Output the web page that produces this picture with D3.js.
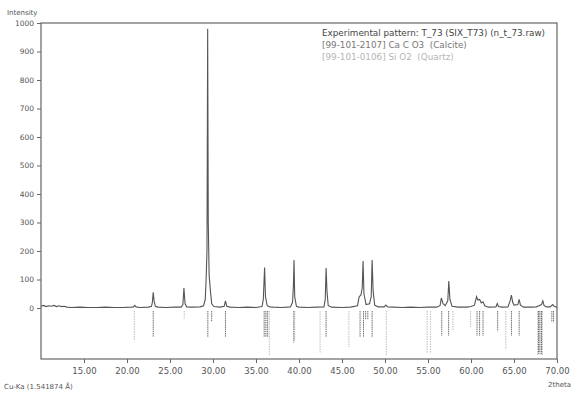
<!DOCTYPE html>
<html><head><meta charset="utf-8">
<script src="https://cdn.jsdelivr.net/npm/d3@7"></script>
<style>
html,body{margin:0;padding:0;background:#fff;}
svg{display:block;font-family:"DejaVu Sans",Verdana,sans-serif;}
</style></head>
<body>
<svg id="c" width="573" height="393"></svg>
<script>
// ---- data ----
const twoTheta = [10.0,10.3,10.6,10.9,11.2,11.5,11.8,12.1,12.4,12.7,13.0,13.5,14.5,15.5,16.5,17.5,18.5,19.5,20.5,20.75,20.9,21.05,21.5,22.5,22.85,22.95,23.05,23.15,23.3,23.6,24.5,25.5,26.3,26.5,26.62,26.75,26.95,27.5,28.5,28.9,29.1,29.2,29.3,29.38,29.45,29.55,29.7,29.85,30.1,30.8,31.3,31.45,31.6,32,33,34,35,35.7,35.85,35.95,36.0,36.1,36.3,36.6,37,38,39.0,39.25,39.35,39.42,39.5,39.7,40,41,42,42.9,43.05,43.15,43.25,43.4,43.8,45,46,46.8,47.0,47.2,47.35,47.45,47.55,47.8,48.2,48.4,48.5,48.62,48.8,49.2,49.9,50.1,50.3,51,52,53,54,55,56,56.4,56.55,56.75,57.0,57.3,57.42,57.55,57.8,58.5,59.5,60.0,60.4,60.65,60.8,61.0,61.2,61.4,61.6,62,62.9,63.05,63.2,63.6,64.3,64.55,64.7,64.85,65.0,65.45,65.6,65.75,66.1,67,67.6,67.9,68.2,68.35,68.5,68.8,69.2,69.5,69.7,70];
const counts   = [6,9,5,8,6,9,5,8,5,6,3,2,3,2,2,3,2,2,3,4,9,4,2,3,6,20,55,25,6,3,2,3,3,12,70,15,4,3,4,8,30,100,200,980,300,115,60,15,5,3,6,25,6,3,2,3,2,5,30,105,142,40,8,4,3,2,4,20,80,168,40,6,3,2,3,4,30,140,60,8,3,2,3,8,40,45,70,165,50,12,15,40,168,60,10,4,4,10,4,3,2,3,2,3,3,8,35,15,8,25,95,30,6,3,3,5,10,40,28,30,18,22,8,3,4,16,5,3,4,25,45,20,10,12,30,10,3,3,4,8,12,25,8,4,4,12,5,3];

const calcitePos = [23.05,29.4,29.85,31.45,35.95,36.15,36.35,39.4,43.15,47.1,47.5,47.75,48.0,48.5,56.6,57.4,60.7,61.0,61.4,63.1,64.7,65.6,67.85,68.0,68.2,69.4,69.6];
const calciteRel = [57,59,23,57,57,57,57,70,57,57,57,18,18,59,55,55,55,55,55,45,55,55,95,95,95,25,25];
const quartzPos  = [20.85,26.65,36.55,39.5,42.45,45.8,50.15,54.9,55.3,57.9,59.95,64.05,67.75,68.15,68.3];
const quartzRel  = [68,18,98,65,93,80,98,95,95,45,35,85,98,98,98];

const yTicks = [0,100,200,300,400,500,600,700,800,900,1000];
const xTicks = [15,20,25,30,35,40,45,50,55,60,65,70];

const legendLines = [
  "Experimental pattern: T_73 (SIX_T73) (n_t_73.raw)",
  "[99-101-2107] Ca C O3  (Calcite)",
  "[99-101-0106] Si O2  (Quartz)"
];
const legendColors = ["#444","#777","#b5b5b5"];

// ---- drawing ----
const svg = d3.select("#c");
const x = d3.scaleLinear().domain([10,70]).range([41,557]);
const y = d3.scaleLinear().domain([0,1000]).range([308,23]);
const s = d3.scaleLinear().domain([0,100]).range([311,356]);

// frame
svg.append("rect").attr("x",41).attr("y",23).attr("width",516).attr("height",336)
  .attr("fill","none").attr("stroke","#666").attr("stroke-width",1.2);

// legend text
svg.selectAll("text.leg").data(legendLines).join("text")
  .attr("class","leg").attr("x",322).attr("y",(d,i)=>36+i*12)
  .attr("font-size",8.8).attr("fill",(d,i)=>legendColors[i])
  .attr("xml:space","preserve").text(d=>d);

// axes
const ya = svg.append("g").attr("transform","translate(41,0)")
  .call(d3.axisLeft(y).tickValues(yTicks).tickSize(4).tickPadding(3).tickFormat(d3.format("d")));
ya.select(".domain").remove();
ya.selectAll("line").attr("stroke","#666");
ya.selectAll("text").attr("font-size",7.5).attr("fill","#555").attr("font-family","DejaVu Sans");

const xa = svg.append("g").attr("transform","translate(0,359)")
  .call(d3.axisBottom(x).tickValues(xTicks).tickSize(4).tickPadding(5).tickFormat(d3.format(".2f")));
xa.select(".domain").remove();
xa.selectAll("line").attr("stroke","#666");
xa.selectAll("text").attr("font-size",8.5).attr("fill","#555").attr("font-family","DejaVu Sans");

// reference sticks
svg.selectAll("line.qz").data(quartzPos).join("line").attr("class","qz")
  .attr("x1",d=>x(d)).attr("x2",d=>x(d)).attr("y1",s(0))
  .attr("y2",(d,i)=>s(quartzRel[i])).attr("stroke","#bdbdbd").attr("stroke-width",1)
  .attr("stroke-dasharray","1.5,1");
svg.selectAll("line.cc").data(calcitePos).join("line").attr("class","cc")
  .attr("x1",d=>x(d)).attr("x2",d=>x(d)).attr("y1",s(0))
  .attr("y2",(d,i)=>s(calciteRel[i])).attr("stroke","#707070").attr("stroke-width",1)
  .attr("stroke-dasharray","1.5,0.7");

// profile
const pts = twoTheta.map((t,i)=>[t,counts[i]]);
svg.append("path").datum(pts)
  .attr("d", d3.line().x(d=>x(d[0])).y(d=>y(d[1])))
  .attr("fill","none").attr("stroke","#555").attr("stroke-width",1.1);

// labels
svg.append("text").attr("x",7).attr("y",15).attr("font-size",7).attr("fill","#555").text("Intensity");
svg.append("text").attr("x",4).attr("y",389).attr("font-size",7).attr("fill","#555").text("Cu-Ka (1.541874 Å)");
svg.append("text").attr("x",548).attr("y",387).attr("font-size",7).attr("fill","#555").text("2theta");
</script>
</body></html>
